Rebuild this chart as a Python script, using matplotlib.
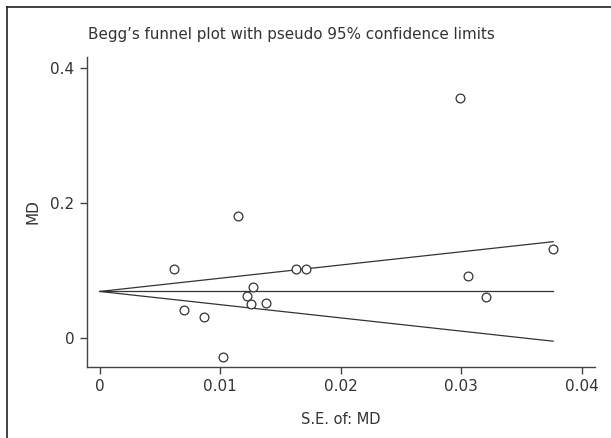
import numpy as np
import matplotlib.pyplot as plt
from matplotlib.lines import Line2D

# standard errors and mean differences
se = [0.0062, 0.01146, 0.00703, 0.00869, 0.01024, 0.01221, 0.01254, 0.01275,
      0.01381, 0.01629, 0.01712, 0.02989, 0.03763, 0.03053, 0.03202]
md = [0.102, 0.181, 0.0415, 0.031, -0.028, 0.062, 0.051, 0.075,
      0.052, 0.102, 0.102, 0.356, 0.132, 0.092, 0.061]
pooled_md = 0.069
x_ticks = [0, 0.01, 0.02, 0.03, 0.04]
x_tick_labels = ["0", "0.01", "0.02", "0.03", "0.04"]
y_ticks = [0, 0.2, 0.4]
y_tick_labels = ["0", "0.2", "0.4"]

plt.rcParams['font.family'] = ['DejaVu Sans']
ink = "#333333"

fig = plt.figure(figsize=(6.11, 4.38), dpi=100)
ax = fig.add_axes([0.1424, 0.1628, 0.8314, 0.7064])

# pseudo 95% limits
se_line = np.array([0, max(se)])
ax.plot(se_line, [pooled_md, pooled_md], color=ink, lw=0.9)
ax.plot(se_line, pooled_md + 1.96 * se_line, color=ink, lw=0.9)
ax.plot(se_line, pooled_md - 1.96 * se_line, color=ink, lw=0.9)

ax.scatter(se, md, s=40, facecolors="white", edgecolors=ink, linewidths=0.9, zorder=3)

ax.set_xlim(-0.00106, 0.0411)
ax.set_ylim(-0.0425, 0.416)
ax.set_xticks(x_ticks)
ax.set_xticklabels(x_tick_labels)
ax.set_yticks(y_ticks)
ax.set_yticklabels(y_tick_labels)

for s in ["top", "right"]:
    ax.spines[s].set_visible(False)
for s in ["left", "bottom"]:
    ax.spines[s].set_color("#444444")
    ax.spines[s].set_linewidth(1.0)
ax.tick_params(colors="#444444", labelcolor=ink, labelsize=11, length=5, width=1.0, pad=4)

ax.set_xlabel("S.E. of: MD", fontsize=10.5, color=ink, labelpad=13)
ax.set_ylabel("MD", fontsize=11, color=ink, labelpad=7)

fig.text(88 / 611, 1 - 35 / 438, "Begg\u2019s funnel plot with pseudo 95% confidence limits",
         fontsize=10.9, color=ink, va="center", ha="left")

# outer frame (only left and top edges are visible in the crop)
fig.add_artist(Line2D([7 / 611, 7 / 611], [0, 1 - 7 / 438], transform=fig.transFigure, color="#222222", lw=1.2))
fig.add_artist(Line2D([7 / 611, 1], [1 - 7 / 438, 1 - 7 / 438], transform=fig.transFigure, color="#222222", lw=1.2))

fig.savefig("out.png", dpi=100)
